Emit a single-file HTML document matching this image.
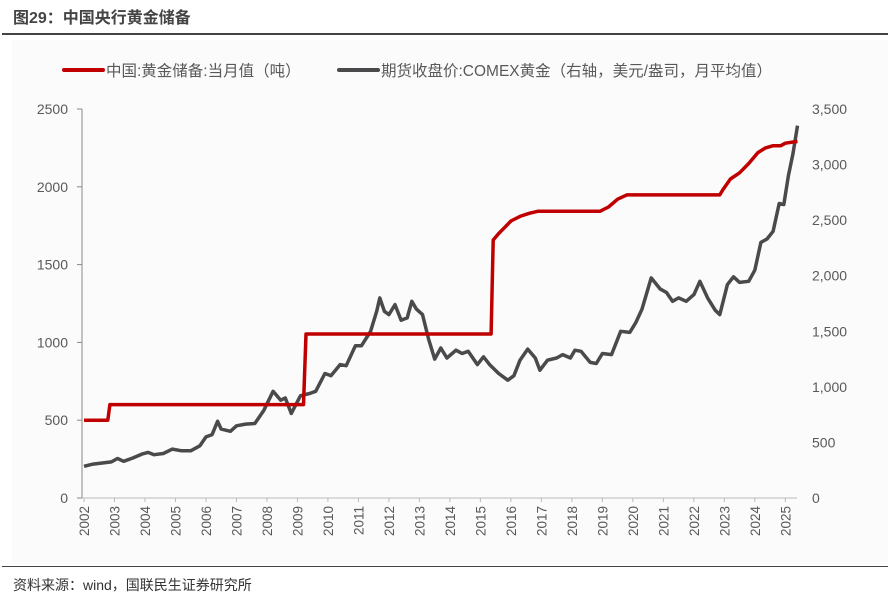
<!DOCTYPE html>
<html><head><meta charset="utf-8"><style>
body{margin:0;background:#fff;font-family:"Liberation Sans","Noto Sans CJK SC",sans-serif;}
#wrap{position:relative;width:894px;height:612px;overflow:hidden;}
</style></head><body>
<div id="wrap">
<div style="position:absolute;left:13px;top:4px;font-size:16px;font-weight:bold;color:#444;">图29：中国央行黄金储备</div>
<div style="position:absolute;left:2px;top:33px;width:886px;height:2px;background:#444;"></div>
<div style="position:absolute;left:12px;top:40px;width:876px;height:524px;background:#fbfbfb;"></div>
<svg id="chart" width="894" height="612" style="position:absolute;left:0;top:0"></svg>
<div style="position:absolute;left:2px;top:566px;width:886px;height:1px;background:#444;"></div>
<div style="position:absolute;left:13px;top:575px;font-size:14px;color:#333;">资料来源：wind，国联民生证券研究所</div>
</div>
<script>
const years=[2002,2003,2004,2005,2006,2007,2008,2009,2010,2011,2012,2013,2014,2015,2016,2017,2018,2019,2020,2021,2022,2023,2024,2025];
const leftTicks=[0,500,1000,1500,2000,2500];
const rightTicks=[0,500,1000,1500,2000,2500,3000,3500];
const rightTickLabels=["0","500","1,000","1,500","2,000","2,500","3,000","3,500"];
const reserveT=[2002.0,2002.78,2002.85,2009.2,2009.28,2015.35,2015.42,2015.6,2015.8,2016.0,2016.3,2016.6,2016.9,2018.93,2019.2,2019.5,2019.8,2022.85,2022.95,2023.2,2023.5,2023.8,2024.1,2024.35,2024.6,2024.85,2025.0,2025.4];
const reserveV=[500,500,600,600,1054,1054,1658,1700,1740,1780,1810,1830,1843,1843,1870,1920,1948,1948,1980,2050,2090,2150,2220,2250,2264,2264,2280,2292];
const goldT=[2002.0,2002.3,2002.6,2002.9,2003.1,2003.3,2003.6,2003.9,2004.1,2004.3,2004.6,2004.9,2005.2,2005.5,2005.8,2006.0,2006.2,2006.38,2006.5,2006.8,2007.0,2007.3,2007.6,2007.9,2008.2,2008.45,2008.6,2008.8,2008.95,2009.1,2009.4,2009.6,2009.9,2010.1,2010.4,2010.6,2010.9,2011.1,2011.4,2011.6,2011.7,2011.85,2012.0,2012.2,2012.4,2012.6,2012.75,2012.9,2013.1,2013.3,2013.5,2013.7,2013.9,2014.2,2014.4,2014.6,2014.9,2015.1,2015.3,2015.6,2015.9,2016.1,2016.3,2016.55,2016.8,2016.95,2017.2,2017.5,2017.7,2017.95,2018.1,2018.3,2018.6,2018.8,2019.0,2019.3,2019.6,2019.9,2020.1,2020.3,2020.6,2020.9,2021.1,2021.3,2021.5,2021.75,2022.0,2022.2,2022.45,2022.7,2022.85,2023.1,2023.3,2023.5,2023.8,2024.0,2024.2,2024.4,2024.6,2024.8,2024.95,2025.1,2025.25,2025.4];
const goldV=[285,305,315,325,355,330,360,395,410,390,400,440,425,425,470,550,570,690,620,600,650,665,670,790,960,880,900,760,840,920,940,960,1120,1100,1200,1190,1370,1370,1500,1680,1800,1680,1650,1740,1600,1620,1770,1700,1650,1430,1250,1350,1260,1330,1300,1320,1200,1270,1200,1120,1060,1100,1240,1340,1260,1150,1240,1260,1290,1260,1330,1320,1220,1210,1300,1290,1500,1490,1580,1700,1980,1880,1850,1770,1800,1770,1830,1950,1800,1690,1650,1920,1990,1940,1950,2050,2300,2330,2400,2650,2640,2900,3100,3350];
const NS="http://www.w3.org/2000/svg";
const svg=document.getElementById('chart');
const X0=82,X1=797,Y0=498,Y1=109;
const xs=t=>X0+2+(t-2002)*(712/23.35);
const yl=v=>Y0-v/2500*(Y0-Y1);
const yr=v=>Y0-v/3500*(Y0-Y1);
function mk(tag,attrs){const e=document.createElementNS(NS,tag);for(const k in attrs)e.setAttribute(k,attrs[k]);svg.appendChild(e);return e;}
let ax=mk('line',{x1:X0,y1:Y1,x2:X0,y2:Y0,stroke:'#888','stroke-width':1});


let bx=mk('line',{x1:X0,y1:Y0,x2:X1,y2:Y0,stroke:'#bbb','stroke-width':1});


leftTicks.forEach(v=>{
 const t=mk('text',{x:X0-14,y:yl(v)+5,'text-anchor':'end','font-size':14,fill:'#595959','font-family':'Liberation Sans, sans-serif'});
 t.textContent=v;
 
 
 const k=mk('line',{x1:X0-5,y1:yl(v),x2:X0,y2:yl(v),stroke:'#888'});
 
 
});
rightTicks.forEach((v,i)=>{
 const t=mk('text',{x:812,y:yr(v)+5,'text-anchor':'start','font-size':14,fill:'#595959','font-family':'Liberation Sans, sans-serif'});
 t.textContent=rightTickLabels[i];
 
 
});
years.forEach(y=>{
 const x=xs(y);
 const k=mk('line',{x1:x,y1:Y0,x2:x,y2:Y0+4,stroke:'#bbb'});
 
 
 const t=mk('text',{x:0,y:0,'text-anchor':'end','font-size':13.5,fill:'#595959','font-family':'Liberation Sans, sans-serif',transform:`translate(${x+5},${Y0+8}) rotate(-90)`});
 t.textContent=y;
 
 
});
const gp=goldT.map((t,i)=>(i?'L':'M')+xs(t).toFixed(1)+','+yr(goldV[i]).toFixed(1)).join(' ');
const g=mk('path',{d:gp,fill:'none',stroke:'#4a4a4c','stroke-width':3.5,'stroke-linejoin':'round'});


const rp=reserveT.map((t,i)=>(i?'L':'M')+xs(t).toFixed(1)+','+yl(reserveV[i]).toFixed(1)).join(' ');
const r=mk('path',{d:rp,fill:'none',stroke:'#c00000','stroke-width':3.5,'stroke-linejoin':'round'});


const l1=mk('line',{x1:64,y1:70,x2:103,y2:70,stroke:'#c00000','stroke-width':4,'stroke-linecap':'round'});


const lt1=mk('text',{x:106,y:76,'font-size':15.5,fill:'#595959','font-family':'Liberation Sans, Noto Sans CJK SC, sans-serif'});
lt1.textContent='中国:黄金储备:当月值（吨）';


const l2=mk('line',{x1:339,y1:70,x2:378,y2:70,stroke:'#4a4a4c','stroke-width':4,'stroke-linecap':'round'});


const lt2=mk('text',{x:381,y:76,'font-size':15.5,fill:'#595959','font-family':'Liberation Sans, Noto Sans CJK SC, sans-serif'});
lt2.textContent='期货收盘价:COMEX黄金（右轴，美元/盎司，月平均值）';


</script>
</body></html>
